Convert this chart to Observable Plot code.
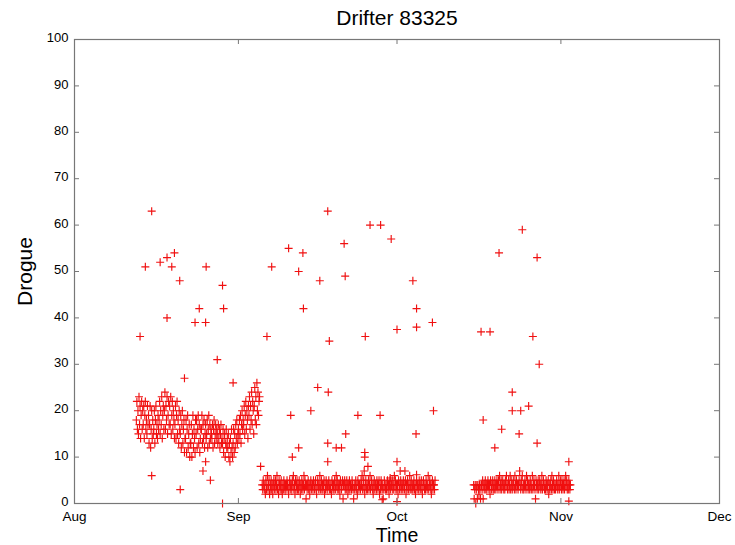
<!DOCTYPE html>
<html><head><meta charset="utf-8">
<script src="https://cdn.jsdelivr.net/npm/d3@7"></script>
<script src="https://cdn.jsdelivr.net/npm/@observablehq/plot@0.6"></script>
<style>body{margin:0;background:#fff}</style>
</head><body><div id="chart"></div>
<script>
const title = "Drifter 83325";
const xLabel = "Time";
const yLabel = "Drogue";
const monthTicks = ["2003-08-01", "2003-09-01", "2003-10-01", "2003-11-01", "2003-12-01"];
const yTicks = [0, 10, 20, 30, 40, 50, 60, 70, 80, 90, 100];

// [days since Aug 1, drogue]
const cluster1 = [
[11.7,18],[11.8,22],[11.9,16],
[12.0,20],[12.1,15],[12.2,23],[12.3,17],[12.4,21],[12.5,14],[12.6,19],[12.7,22],[12.8,16],[12.9,20],
[13.0,17],[13.1,21],[13.2,14],[13.3,19],[13.4,22],[13.5,16],[13.6,18],[13.7,15],[13.8,21],[13.9,17],
[14.0,19],[14.1,13],[14.2,17],[14.3,21],[14.4,12],[14.5,16],[14.6,20],[14.7,14],[14.8,18],[14.9,15],
[15.0,16],[15.1,20],[15.2,13],[15.3,18],[15.4,21],[15.5,15],[15.6,17],[15.7,14],[15.8,19],[15.9,16],
[16.0,18],[16.1,22],[16.2,15],[16.3,20],[16.4,17],[16.5,23],[16.6,14],[16.7,19],[16.8,21],[16.9,16],
[17.0,20],[17.1,24],[17.2,16],[17.3,21],[17.4,18],[17.5,23],[17.6,15],[17.7,19],[17.8,22],[17.9,17],
[18.0,21],[18.1,17],[18.2,23],[18.3,15],[18.4,19],[18.5,22],[18.6,16],[18.7,20],[18.8,18],[18.9,14],
[19.0,17],[19.1,21],[19.2,14],[19.3,19],[19.4,22],[19.5,15],[19.6,18],[19.7,13],[19.8,20],[19.9,16],
[20.0,15],[20.1,19],[20.2,12],[20.3,17],[20.4,20],[20.5,13],[20.6,16],[20.7,18],[20.8,11],[20.9,14],
[21.0,14],[21.1,18],[21.2,11],[21.3,16],[21.4,19],[21.5,12],[21.6,15],[21.7,17],[21.8,10],[21.9,13],
[22.0,13],[22.1,17],[22.2,10],[22.3,15],[22.4,19],[22.5,12],[22.6,16],[22.7,14],[22.8,11],[22.9,18],
[23.0,15],[23.1,18],[23.2,12],[23.3,16],[23.4,19],[23.5,13],[23.6,17],[23.7,11],[23.8,14],[23.9,16],
[24.0,16],[24.1,19],[24.2,13],[24.3,17],[24.4,14],[24.5,18],[24.6,12],[24.7,15],[24.8,17],[24.9,14],
[25.0,15],[25.1,18],[25.2,12],[25.3,16],[25.4,19],[25.5,13],[25.6,17],[25.7,14],[25.8,16],[25.9,15],
[26.0,14],[26.1,17],[26.2,12],[26.3,16],[26.4,18],[26.5,13],[26.6,15],[26.7,17],[26.8,14],[26.9,16],
[27.0,15],[27.1,13],[27.2,17],[27.3,14],[27.4,16],[27.5,12],[27.6,15],[27.7,17],[27.8,13],[27.9,14],
[28.0,13],[28.1,16],[28.2,11],[28.3,14],[28.4,15],[28.5,10],[28.6,13],[28.7,16],[28.8,12],[28.9,14],
[29.0,12],[29.1,15],[29.2,10],[29.3,13],[29.4,9],[29.5,14],[29.6,11],[29.7,16],[29.8,12],[29.9,10],
[30.0,13],[30.1,16],[30.2,11],[30.3,15],[30.4,12],[30.5,17],[30.6,14],[30.7,18],[30.8,13],[30.9,15],
[31.0,16],[31.1,14],[31.2,18],[31.3,15],[31.4,19],[31.5,13],[31.6,17],[31.7,20],[31.8,16],[31.9,18],
[32.0,17],[32.1,21],[32.2,15],[32.3,19],[32.4,22],[32.5,16],[32.6,20],[32.7,18],[32.8,14],[32.9,21],
[33.0,19],[33.1,23],[33.2,16],[33.3,21],[33.4,18],[33.5,24],[33.6,17],[33.7,22],[33.8,20],[33.9,15],
[34.0,21],[34.1,25],[34.2,18],[34.3,23],[34.4,17],[34.5,26],[34.6,20],[34.7,24],[34.8,19],[34.9,22],
[35.0,23]
];
const cluster2 = [
[35.5,4],[35.6,3],[35.7,5],[35.8,4],[35.9,3],
[36.0,4],[36.1,2],[36.2,5],[36.3,3],[36.4,4],[36.5,6],[36.6,3],[36.7,4],[36.8,5],[36.9,2],
[37.0,3],[37.1,4],[37.2,5],[37.3,3],[37.4,4],[37.5,2],[37.6,4],[37.7,5],[37.8,3],[37.9,4],
[38.0,5],[38.1,3],[38.2,4],[38.3,6],[38.4,3],[38.5,4],[38.6,2],[38.7,5],[38.8,4],[38.9,3],
[39.0,4],[39.1,5],[39.2,3],[39.3,2],[39.4,4],[39.5,3],[39.6,5],[39.7,4],[39.8,3],[39.9,4],
[40.0,3],[40.1,4],[40.2,5],[40.3,4],[40.4,3],[40.5,2],[40.6,4],[40.7,5],[40.8,3],[40.9,4],
[41.0,4],[41.1,3],[41.2,5],[41.3,4],[41.4,6],[41.5,3],[41.6,4],[41.7,2],[41.8,5],[41.9,3],
[42.0,4],[42.1,5],[42.2,3],[42.3,4],[42.4,3],[42.5,5],[42.6,4],[42.7,2],[42.8,4],[42.9,3],
[43.0,5],[43.1,4],[43.2,3],[43.3,4],[43.4,6],[43.5,3],[43.6,5],[43.7,4],[43.8,1],[43.9,4],
[44.0,3],[44.1,4],[44.2,5],[44.3,3],[44.4,4],[44.5,2],[44.6,4],[44.7,5],[44.8,3],[44.9,4],
[45.0,4],[45.1,3],[45.2,5],[45.3,4],[45.4,3],[45.5,4],[45.6,5],[45.7,3],[45.8,2],[45.9,4],
[46.0,5],[46.1,4],[46.2,3],[46.3,4],[46.4,6],[46.5,3],[46.6,4],[46.7,5],[46.8,3],[46.9,4],
[47.0,3],[47.1,4],[47.2,5],[47.3,2],[47.4,4],[47.5,3],[47.6,5],[47.7,4],[47.8,3],[47.9,4],
[48.0,4],[48.1,5],[48.2,3],[48.3,4],[48.4,3],[48.5,4],[48.6,2],[48.7,5],[48.8,4],[48.9,3],
[49.0,4],[49.1,3],[49.2,5],[49.3,4],[49.4,3],[49.5,6],[49.6,4],[49.7,5],[49.8,3],[49.9,4],
[50.0,3],[50.1,4],[50.2,2],[50.3,5],[50.4,4],[50.5,3],[50.6,4],[50.7,5],[50.8,1],[50.9,4],
[51.0,4],[51.1,5],[51.2,3],[51.3,4],[51.4,3],[51.5,5],[51.6,4],[51.7,2],[51.8,4],[51.9,3],
[52.0,5],[52.1,3],[52.2,4],[52.3,4],[52.4,3],[52.5,5],[52.6,4],[52.7,3],[52.8,1],[52.9,4],
[53.0,3],[53.1,4],[53.2,5],[53.3,3],[53.4,4],[53.5,2],[53.6,5],[53.7,4],[53.8,3],[53.9,4],
[54.0,4],[54.1,3],[54.2,5],[54.3,4],[54.4,6],[54.5,3],[54.6,4],[54.7,5],[54.8,3],[54.9,2],
[55.0,4],[55.1,5],[55.2,3],[55.3,4],[55.4,3],[55.5,4],[55.6,5],[55.7,3],[55.8,4],[55.9,6],
[56.0,3],[56.1,4],[56.2,5],[56.3,4],[56.4,3],[56.5,2],[56.6,4],[56.7,5],[56.8,3],[56.9,4],
[57.0,4],[57.1,3],[57.2,5],[57.3,4],[57.4,3],[57.5,4],[57.6,5],[57.7,2],[57.8,4],[57.9,3],
[58.0,5],[58.1,4],[58.2,3],[58.3,4],[58.4,1],[58.5,3],[58.6,5],[58.7,4],[58.8,3],[58.9,4],
[59.0,3],[59.1,4],[59.2,5],[59.3,3],[59.4,4],[59.5,2],[59.6,4],[59.7,5],[59.8,3],[59.9,4],
[60.0,4],[60.1,5],[60.2,3],[60.3,4],[60.4,3],[60.5,6],[60.6,4],[60.7,5],[60.8,3],[60.9,4],
[61.0,3],[61.1,4],[61.2,2],[61.3,5],[61.4,4],[61.5,3],[61.6,4],[61.7,5],[61.8,3],[61.9,4],
[62.0,4],[62.1,3],[62.2,5],[62.3,4],[62.4,3],[62.5,4],[62.6,5],[62.7,2],[62.8,4],[62.9,3],
[63.0,5],[63.1,4],[63.2,3],[63.3,4],[63.4,6],[63.5,3],[63.6,4],[63.7,5],[63.8,3],[63.9,4],
[64.0,3],[64.1,4],[64.2,5],[64.3,3],[64.4,4],[64.5,2],[64.6,4],[64.7,5],[64.8,3],[64.9,4],
[65.0,4],[65.1,3],[65.2,5],[65.3,4],[65.4,3],[65.5,4],[65.6,5],[65.7,3],[65.8,2],[65.9,4],
[66.0,5],[66.1,4],[66.2,3],[66.3,4],[66.4,3],[66.5,5],[66.6,4],[66.7,3],[66.8,4],[66.9,6],
[67.0,3],[67.1,4],[67.2,5],[67.3,4],[67.4,3],[67.5,2],[67.6,4],[67.7,5],[67.8,3],[67.9,4],
[68.0,4],[68.1,3],[68.2,5]
];
const cluster3 = [
[75.5,4],[75.6,1],[75.7,3],[75.8,4],[75.9,0],
[76.0,3],[76.1,4],[76.2,1],[76.3,4],[76.4,3],[76.5,2],[76.6,4],[76.7,3],[76.8,1],[76.9,4],
[77.0,4],[77.1,3],[77.2,5],[77.3,1],[77.4,4],[77.5,3],[77.6,4],[77.7,5],[77.8,3],[77.9,4],
[78.0,3],[78.1,4],[78.2,5],[78.3,4],[78.4,3],[78.5,4],[78.6,2],[78.7,5],[78.8,4],[78.9,3],
[79.0,4],[79.1,5],[79.2,3],[79.3,4],[79.4,3],[79.5,5],[79.6,4],[79.7,3],[79.8,4],[79.9,5],
[80.0,4],[80.1,3],[80.2,5],[80.3,4],[80.4,6],[80.5,3],[80.6,4],[80.7,5],[80.8,3],[80.9,4],
[81.0,5],[81.1,4],[81.2,3],[81.3,4],[81.4,3],[81.5,5],[81.6,4],[81.7,6],[81.8,4],[81.9,3],
[82.0,4],[82.1,5],[82.2,3],[82.3,4],[82.4,6],[82.5,3],[82.6,5],[82.7,4],[82.8,3],[82.9,4],
[83.0,5],[83.1,4],[83.2,3],[83.3,6],[83.4,4],[83.5,3],[83.6,5],[83.7,4],[83.8,4],[83.9,3],
[84.0,4],[84.1,5],[84.2,7],[84.3,4],[84.4,3],[84.5,5],[84.6,4],[84.7,6],[84.8,3],[84.9,4],
[85.0,3],[85.1,4],[85.2,5],[85.3,4],[85.4,3],[85.5,6],[85.6,4],[85.7,5],[85.8,3],[85.9,4],
[86.0,4],[86.1,3],[86.2,5],[86.3,4],[86.4,3],[86.5,4],[86.6,6],[86.7,3],[86.8,4],[86.9,5],
[87.0,4],[87.1,3],[87.2,1],[87.3,5],[87.4,4],[87.5,3],[87.6,4],[87.7,5],[87.8,3],[87.9,4],
[88.0,5],[88.1,4],[88.2,3],[88.3,4],[88.4,6],[88.5,3],[88.6,4],[88.7,5],[88.8,4],[88.9,3],
[89.0,4],[89.1,3],[89.2,5],[89.3,4],[89.4,3],[89.5,4],[89.6,5],[89.7,2],[89.8,4],[89.9,3],
[90.0,4],[90.1,5],[90.2,3],[90.3,6],[90.4,4],[90.5,3],[90.6,5],[90.7,4],[90.8,3],[90.9,4],
[91.0,3],[91.1,4],[91.2,5],[91.3,4],[91.4,3],[91.5,4],[91.6,6],[91.7,3],[91.8,4],[91.9,5],
[92.0,4],[92.1,3],[92.2,5],[92.3,4],[92.4,3],[92.5,4],[92.6,5],[92.7,3],[92.8,4],[92.9,6],
[93.0,4],[93.1,5],[93.2,3],[93.3,4],[93.4,3],[93.5,5],[93.6,4],[93.7,3],[93.8,4],[93.5,0.5]
];
const outliers = [
[12.4,36],[13.4,51],[14.6,63],[16.2,52],[17.5,53],[18.4,51],[18.9,54],[19.9,48],[24.9,51],[28.0,47],
[23.6,42],[28.2,42],[17.5,40],[22.8,39],[24.8,39],[27.0,31],[20.8,27],[30.0,26],[14.6,6],[20.0,3],
[24.8,9],[24.3,7],[25.7,5],[28.0,0],[35.2,8],
[47.9,63],[55.9,60],[57.9,60],[59.9,57],[51.0,56],[40.5,55],[43.2,54],[37.3,51],[42.4,50],[51.2,49],
[46.4,48],[64.0,48],[43.3,42],[64.7,42],[67.7,39],[64.7,38],[61.0,37.5],[36.4,36],[48.2,35],[55.0,36],
[46.0,25],[48.0,24],[40.9,19],[44.7,20],[53.6,19],[57.8,19],[67.9,20],[51.3,15],[64.6,15],[47.9,13],
[42.4,12],[49.5,12],[50.5,12],[54.9,11],[54.9,10],[41.2,10],[47.9,9],[61.0,9],[55.5,8],[54.8,7],
[61.6,7],[62.5,7],[59.7,5.5],[64.7,6.2],[58.2,0.8],[61.0,0.4],
[84.7,59],[80.3,54],[87.5,53],[76.9,37],[78.6,37],[86.7,36],[87.9,30],[82.8,24],[82.8,20],[84.4,20],
[85.9,21],[77.3,18],[80.8,16],[84.1,15],[87.5,13],[79.5,12],[93.5,9]
];

const origin = Date.UTC(2003, 7, 1);
const toDate = d => new Date(origin + d * 864e5);
const points = [...cluster1, ...cluster2, ...cluster3, ...outliers]
  .map(([d, v]) => ({time: toDate(d), drogue: v}));
const months = monthTicks.map(s => new Date(s + "T00:00:00Z"));

const plusSymbol = {
  draw(ctx, size) {
    const h = Math.sqrt(size / Math.PI);
    ctx.moveTo(-h, 0); ctx.lineTo(h, 0);
    ctx.moveTo(0, -h); ctx.lineTo(0, h);
  }
};
const axisColor = "#777";
const W = 735, H = 545, mL = 74, mR = 16, mT = 39, mB = 42;
const fw = W - mL - mR, fh = H - mT - mB, tick = 5;

const chart = Plot.plot({
  width: W,
  height: H,
  marginLeft: mL,
  marginRight: mR,
  marginTop: mT,
  marginBottom: mB,
  style: {fontFamily: "'Liberation Sans', Arial, Helvetica, sans-serif", background: "#fff", color: "#000"},
  x: {type: "utc", domain: [months[0], months[months.length - 1]]},
  y: {domain: [0, 100]},
  marks: [
    Plot.dot(points, {x: "time", y: "drogue", symbol: plusSymbol, r: 4, stroke: "#f01010", fill: "none", strokeWidth: 1.15}),
    Plot.frame({stroke: axisColor, strokeWidth: 1.2}),
    Plot.ruleX(months, {x: d => d, insetTop: fh - tick, stroke: axisColor}),
    Plot.ruleX(months, {x: d => d, insetBottom: fh - tick, stroke: axisColor}),
    Plot.ruleY(yTicks, {y: d => d, insetRight: fw - tick, stroke: axisColor}),
    Plot.ruleY(yTicks, {y: d => d, insetLeft: fw - tick, stroke: axisColor}),
    Plot.axisX({ticks: months, tickFormat: d3.utcFormat("%b"), tickSize: 0, tickPadding: 8, fontSize: 13.5, label: null}),
    Plot.axisY({ticks: yTicks, tickSize: 0, tickPadding: 6, fontSize: 13, dy: -1.5, label: null}),
    Plot.text([title], {frameAnchor: "top", dy: -21, fontSize: 21, textAnchor: "middle", lineAnchor: "middle"}),
    Plot.text([xLabel], {frameAnchor: "bottom", dy: 32.5, fontSize: 19.5, textAnchor: "middle", lineAnchor: "middle"}),
    Plot.text([yLabel], {frameAnchor: "left", dx: -49, rotate: -90, fontSize: 21, textAnchor: "middle", lineAnchor: "middle"})
  ]
});
document.getElementById("chart").appendChild(chart);
</script>
</body></html>
